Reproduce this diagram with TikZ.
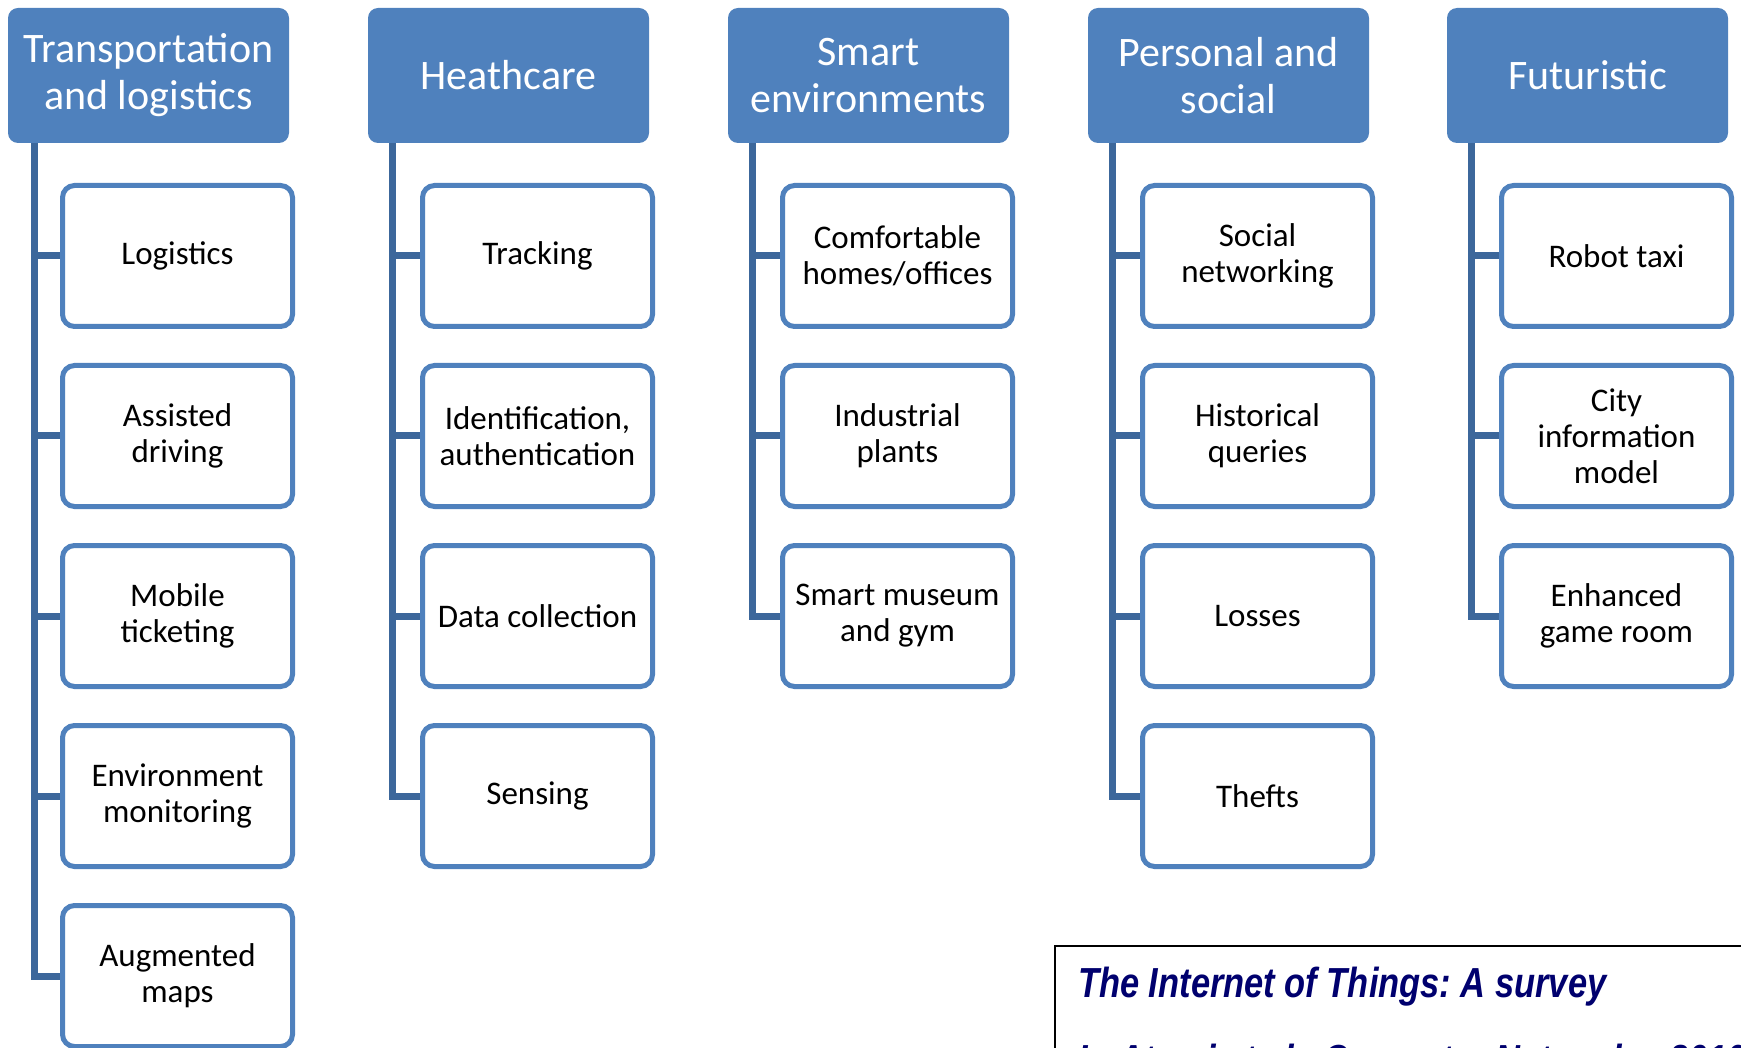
\documentclass[tikz,border=0pt]{standalone}
\usepackage{fontspec}
\setmainfont{Carlito}
\newfontfamily\citefont[FakeStretch=0.82]{Liberation Sans}
\usetikzlibrary{positioning, calc}
\frenchspacing

\definecolor{hdrblue}{RGB}{79,129,189}
\definecolor{trunkblue}{RGB}{60,103,155}
\definecolor{citenavy}{RGB}{0,0,110}

\tikzset{
  hdr/.style={rectangle, rounded corners=10pt, fill=hdrblue, text=white, inner sep=0pt,
              minimum width=281pt, minimum height=135pt, align=center, font=\fontsize{42}{47}\selectfont},
  leaf/.style={rectangle, rounded corners=12pt, draw=hdrblue, line width=5pt, fill=white, inner sep=0pt,
               minimum width=230pt, minimum height=141pt, align=center, font=\fontsize{33}{36}\selectfont},
  trunk/.style={draw=trunkblue, line width=7pt},
  citetext/.style={anchor=base west, inner sep=0pt, text=citenavy, font=\citefont\fontsize{42}{50}\selectfont\bfseries\itshape}
}

\begin{document}
\begin{tikzpicture}[x=1pt, y=-1pt]
\useasboundingbox (0,0) rectangle (1741,1048);
\clip (0,0) rectangle (1741,1048);

% headers
\node[hdr] (h1) at (148.5,75.5)  {Transportation\\and logistics};
\node[hdr] (h2) at (508.5,75.5)  {Heathcare};
\node[hdr] (h3) at (868.5,75.5)  {Smart\\environments};
\node[hdr] (h4) at (1228.5,75.5) {Personal and\\social};
\node[hdr] (h5) at (1587.5,75.5) {Futuristic};

% transportation
\node[leaf] (c11) at (177.5,256) {Logistics};
\node[leaf] (c12) at (177.5,436) {Assisted\\driving};
\node[leaf] (c13) at (177.5,616) {Mobile\\ticketing};
\node[leaf] (c14) at (177.5,796) {Environment\\monitoring};
\node[leaf] (c15) at (177.5,976) {Augmented\\maps};
% healthcare
\node[leaf] (c21) at (537.5,256) {Tracking};
\node[leaf] (c22) at (537.5,436) {Identification,\\authentication};
\node[leaf] (c23) at (537.5,616) {Data collection};
\node[leaf] (c24) at (537.5,796) {Sensing};
% smart environments
\node[leaf] (c31) at (897.5,256) {Comfortable\\homes/offices};
\node[leaf] (c32) at (897.5,436) {Industrial\\plants};
\node[leaf] (c33) at (897.5,616) {Smart museum\\and gym};
% personal and social
\node[leaf] (c41) at (1257.5,256) {Social\\networking};
\node[leaf] (c42) at (1257.5,436) {Historical\\queries};
\node[leaf] (c43) at (1257.5,616) {Losses};
\node[leaf] (c44) at (1257.5,796) {Thefts};
% futuristic
\node[leaf] (c51) at (1616.5,256) {Robot taxi};
\node[leaf] (c52) at (1616.5,436) {City\\information\\model};
\node[leaf] (c53) at (1616.5,616) {Enhanced\\game room};

% trunks
\coordinate (t1) at ($(h1.south west)+(27,0)$);
\coordinate (t2) at ($(h2.south west)+(25,0)$);
\coordinate (t3) at ($(h3.south west)+(25,0)$);
\coordinate (t4) at ($(h4.south west)+(25,0)$);
\coordinate (t5) at ($(h5.south west)+(25,0)$);

\draw[trunk] (t1) |- (c15.west);
\draw[trunk] (t1 |- c11.west) -- (c11.west);
\draw[trunk] (t1 |- c12.west) -- (c12.west);
\draw[trunk] (t1 |- c13.west) -- (c13.west);
\draw[trunk] (t1 |- c14.west) -- (c14.west);

\draw[trunk] (t2) |- (c24.west);
\draw[trunk] (t2 |- c21.west) -- (c21.west);
\draw[trunk] (t2 |- c22.west) -- (c22.west);
\draw[trunk] (t2 |- c23.west) -- (c23.west);

\draw[trunk] (t3) |- (c33.west);
\draw[trunk] (t3 |- c31.west) -- (c31.west);
\draw[trunk] (t3 |- c32.west) -- (c32.west);

\draw[trunk] (t4) |- (c44.west);
\draw[trunk] (t4 |- c41.west) -- (c41.west);
\draw[trunk] (t4 |- c42.west) -- (c42.west);
\draw[trunk] (t4 |- c43.west) -- (c43.west);

\draw[trunk] (t5) |- (c53.west);
\draw[trunk] (t5 |- c51.west) -- (c51.west);
\draw[trunk] (t5 |- c52.west) -- (c52.west);

% reference box
\draw[line width=2.5pt] (1055,946) rectangle (1800,1120);
\node[citetext] (cite1) at (1078,997)  {The Internet of Things: A survey};
\node[citetext] (cite2) at (1078,1074) {L. Atzori et al., Computer Networks, 2010};
\end{tikzpicture}
\end{document}
